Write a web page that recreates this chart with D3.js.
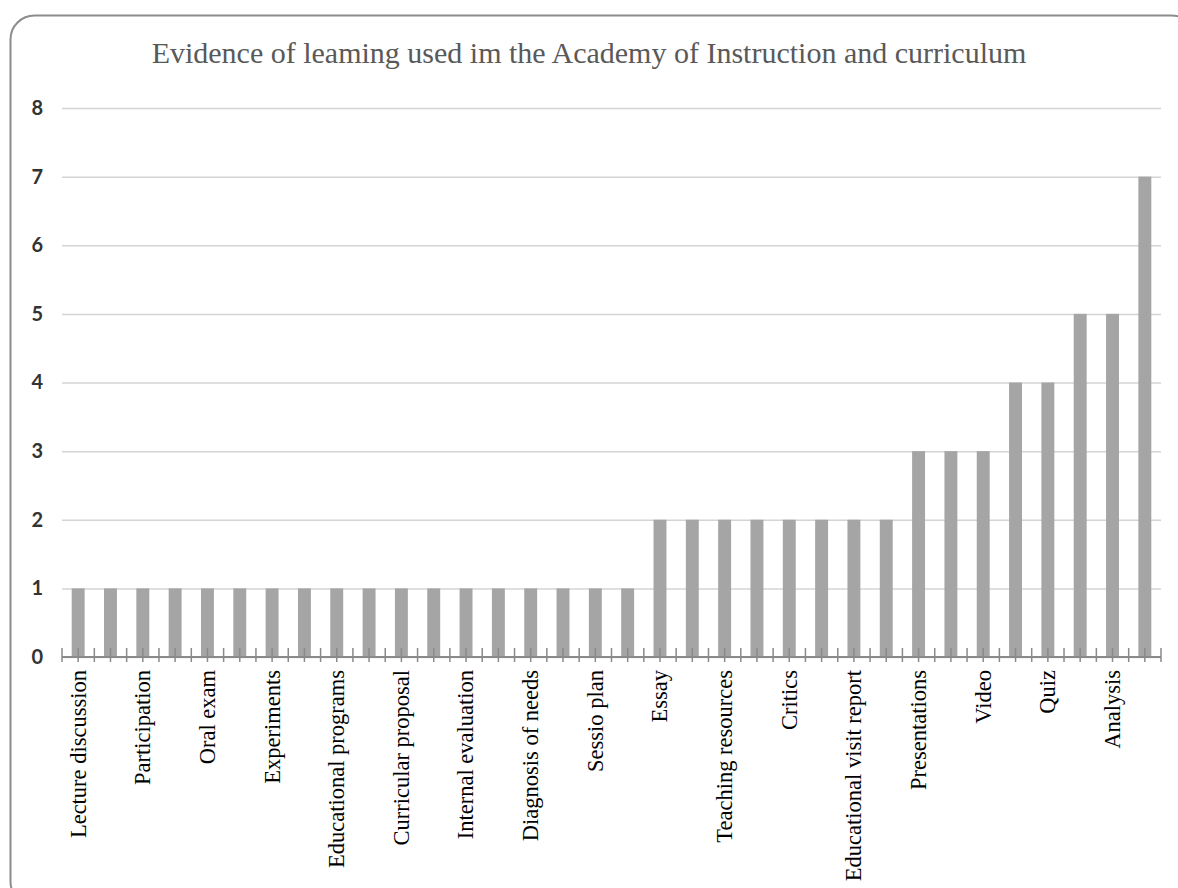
<!DOCTYPE html>
<html>
<head>
<meta charset="utf-8">
<script src="https://cdnjs.cloudflare.com/ajax/libs/d3/7.8.5/d3.min.js"></script>
<style>
  body { margin: 0; background: #fff; }
  svg { display: block; }
</style>
</head>
<body>
<svg id="chart" width="1178" height="888"></svg>
<script>
// categories (only every other one has a printed label in the source chart)
var categories = [
  "Lecture discussion", "", "Participation", "", "Oral exam", "", "Experiments", "",
  "Educational programs", "", "Curricular proposal", "", "Internal evaluation", "",
  "Diagnosis of needs", "", "Sessio plan", "", "Essay", "", "Teaching resources", "",
  "Critics", "", "Educational visit report", "", "Presentations", "", "Video", "",
  "Quiz", "", "Analysis", ""
];
var values = [
  1, 1, 1, 1, 1, 1, 1, 1, 1, 1, 1, 1, 1, 1, 1, 1, 1, 1,
  2, 2, 2, 2, 2, 2, 2, 2,
  3, 3, 3,
  4, 4,
  5, 5,
  7
];
var yTicks = [0, 1, 2, 3, 4, 5, 6, 7, 8];
var chartTitle = "Evidence of leaming used im the Academy of Instruction and curriculum";

var svg = d3.select("svg#chart");

var chart_vars = {
  left: 62,
  right: 1161,
  top: 108,
  bottom: 657,
  bar_color: "#a5a5a5",
  grid_color: "#d4d4d4",
  axis_color: "#8a8a8a"
};

// frame
svg.append("rect")
  .attr("x", 10.5).attr("y", 15.5)
  .attr("width", 1185).attr("height", 890)
  .attr("rx", 24).attr("ry", 24)
  .style("fill", "none")
  .style("stroke", "#8c8c8c")
  .style("stroke-width", 2);

svg.append("text")
  .attr("x", 589).attr("y", 63)
  .attr("text-anchor", "middle")
  .style("font-family", "'Liberation Serif', 'Times New Roman', serif")
  .style("font-size", "30px")
  .style("fill", "#595959")
  .text(chartTitle);

var idx = d3.range(categories.length);

var xScale = d3.scaleBand()
  .domain(idx)
  .range([chart_vars.left, chart_vars.right])
  .paddingInner(0.6)
  .paddingOuter(0.3);

var yScale = d3.scaleLinear()
  .domain([0, 8])
  .range([chart_vars.bottom, chart_vars.top]);

// y axis: gridlines + labels, no line
var axis_left = d3.axisLeft(yScale).tickValues(yTicks).tickSize(-(chart_vars.right - chart_vars.left)).tickPadding(19);

var gy = svg.append("g")
  .attr("class", "axis axis--y")
  .attr("transform", "translate(" + chart_vars.left + ",0)")
  .call(axis_left);

gy.select("path.domain").remove();
gy.selectAll("g.tick line").style("stroke", chart_vars.grid_color).style("stroke-width", 1.5);
gy.selectAll("g.tick text")
  .style("font-family", "Lato, 'Open Sans', sans-serif")
  .style("font-size", "20px")
  .style("font-weight", "700")
  .style("fill", "#333");

// bars
svg.append("g").attr("class", "bars")
  .selectAll("rect")
  .data(values)
  .enter()
  .append("rect")
  .attr("x", function(d, i) { return xScale(i); })
  .attr("y", function(d) { return yScale(d); })
  .attr("width", xScale.bandwidth())
  .attr("height", function(d) { return yScale(0) - yScale(d); })
  .style("fill", chart_vars.bar_color);

// x axis: baseline with cross ticks at every boundary and centre
var step = xScale.step();
var tickPos = d3.range(categories.length * 2 + 1).map(function(k) { return chart_vars.left + k * step / 2; });

var gx = svg.append("g").attr("class", "axis axis--x");

gx.append("line")
  .attr("x1", chart_vars.left).attr("x2", chart_vars.right)
  .attr("y1", yScale(0)).attr("y2", yScale(0))
  .style("stroke", chart_vars.axis_color)
  .style("stroke-width", 2);

gx.selectAll("line.tick")
  .data(tickPos)
  .enter()
  .append("line")
  .attr("class", "tick")
  .attr("x1", function(d) { return d; }).attr("x2", function(d) { return d; })
  .attr("y1", yScale(0) - 9).attr("y2", yScale(0) + 5)
  .style("stroke", chart_vars.axis_color)
  .style("stroke-width", 1.5);

gx.selectAll("text")
  .data(categories)
  .enter()
  .append("text")
  .attr("transform", function(d, i) {
    return "translate(" + (xScale(i) + xScale.bandwidth() / 2) + "," + (yScale(0) + 13) + ") rotate(-90)";
  })
  .attr("dy", "0.33em")
  .attr("text-anchor", "end")
  .style("font-family", "'Liberation Serif', 'Times New Roman', serif")
  .style("font-size", "22.5px")
  .style("fill", "#000")
  .text(function(d) { return d; });
</script>
</body>
</html>
